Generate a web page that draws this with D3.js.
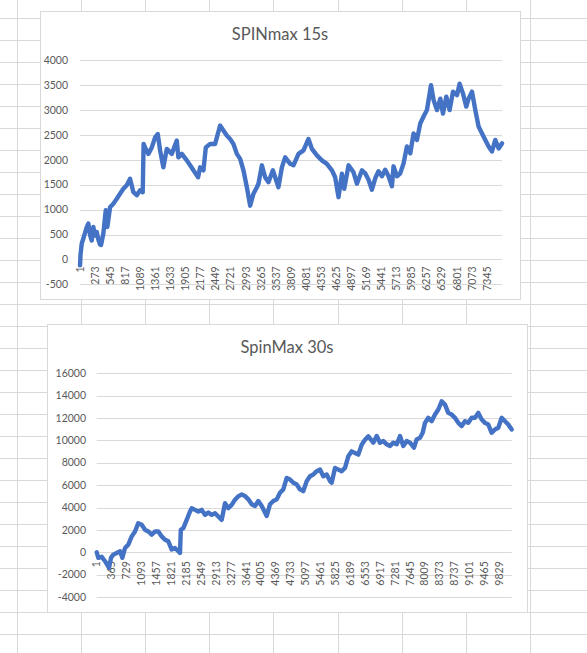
<!DOCTYPE html>
<html>
<head>
<meta charset="utf-8">
<script src="https://cdn.jsdelivr.net/npm/d3@7/dist/d3.min.js"></script>
<style>
    html, body { margin: 0; padding: 0; background: #fff; }
    svg { display: block; }
    text { font-family: Lato, "Open Sans", sans-serif; fill: #595959; }
</style>
</head>
<body>
<div id="sheet"></div>
<script>
// SPINmax 15s: sampled points (row index, value)
const spin15Count = 7616;
const spin15Index = [1, 10, 32, 61, 122, 151, 182, 212, 241, 272, 303, 331, 362, 380, 422, 465, 494, 543, 602, 664,
    723, 783, 844, 904, 964, 1025, 1085, 1133, 1148, 1175, 1235, 1296, 1356, 1404, 1446, 1505, 1567, 1657, 1747, 1776,
    1838, 1928, 1988, 2047, 2109, 2132, 2168, 2228, 2271, 2349, 2439, 2529, 2589, 2650, 2710, 2770, 2831, 2891, 2950, 3012,
    3071, 3131, 3193, 3221, 3283, 3342, 3402, 3481, 3523, 3582, 3644, 3703, 3794, 3853, 3944, 4034, 4124, 4186, 4276, 4366,
    4456, 4547, 4606, 4666, 4727, 4769, 4847, 4937, 4998, 5089, 5148, 5208, 5269, 5329, 5388, 5450, 5509, 5569, 5630, 5659,
    5721, 5780, 5840, 5901, 5961, 6021, 6082, 6141, 6201, 6262, 6291, 6335, 6382, 6443, 6503, 6551, 6611, 6671, 6732, 6804,
    6851, 6913, 6972, 7014, 7075, 7135, 7194, 7256, 7315, 7375, 7436, 7496, 7556, 7616];
const spin15Values = [-120, 100, 320, 420, 650, 720, 490, 380, 650, 480, 550, 400, 300, 290, 520, 990, 650, 1050, 1120, 1220,
    1320, 1420, 1490, 1620, 1350, 1290, 1390, 1350, 2320, 2250, 2120, 2250, 2450, 2520, 2190, 1850, 2220, 2120, 2390, 2050,
    2120, 1990, 1890, 1790, 1690, 1650, 1850, 1790, 2250, 2320, 2320, 2690, 2590, 2490, 2420, 2320, 2120, 2020, 1790, 1450,
    1080, 1320, 1450, 1520, 1890, 1650, 1550, 1790, 1650, 1450, 1850, 2050, 1920, 1890, 2120, 2190, 2420, 2220, 2090, 1990,
    1920, 1790, 1650, 1250, 1720, 1420, 1890, 1750, 1520, 1790, 1730, 1600, 1400, 1630, 1770, 1670, 1800, 1670, 1470, 1870,
    1670, 1730, 1930, 2270, 2130, 2530, 2400, 2730, 2870, 3000, 3200, 3500, 3200, 3000, 3230, 2930, 3270, 3000, 3370, 3300,
    3530, 3330, 3070, 3230, 3370, 3000, 2670, 2530, 2400, 2270, 2170, 2400, 2230, 2330];
const spin15Labels = [1, 273, 545, 817, 1089, 1361, 1633, 1905, 2177, 2449, 2721, 2993, 3265, 3537, 3809, 4081, 4353,
    4625, 4897, 5169, 5441, 5713, 5985, 6257, 6529, 6801, 7073, 7345];
const spin15YTicks = [-500, 0, 500, 1000, 1500, 2000, 2500, 3000, 3500, 4000];

// SpinMax 30s
const spin30Count = 10131;
const spin30Index = [1, 40, 123, 204, 301, 350, 406, 489, 570, 626, 692, 772, 855, 936, 1016, 1099, 1180, 1261, 1344, 1424,
    1505, 1588, 1668, 1749, 1832, 1912, 1993, 2034, 2054, 2115, 2198, 2278, 2320, 2401, 2481, 2564, 2645, 2725, 2808, 2889,
    2969, 3052, 3133, 3213, 3296, 3377, 3457, 3540, 3621, 3702, 3785, 3865, 3946, 4029, 4151, 4231, 4312, 4395, 4475, 4556,
    4639, 4719, 4800, 4883, 4964, 5044, 5127, 5208, 5288, 5371, 5452, 5532, 5615, 5696, 5737, 5818, 5899, 5981, 6062, 6143,
    6226, 6306, 6387, 6470, 6550, 6631, 6753, 6836, 6916, 6997, 7080, 7161, 7241, 7324, 7405, 7485, 7568, 7649, 7746, 7812,
    7893, 7959, 8015, 8095, 8178, 8259, 8340, 8422, 8503, 8584, 8667, 8747, 8828, 8911, 8991, 9072, 9155, 9235, 9316, 9399,
    9479, 9560, 9643, 9723, 9804, 9887, 9968, 10048, 10131];
const spin30Values = [0, -500, -410, -800, -1400, -500, -210, -60, 90, -500, 380, 680, 1420, 1860, 2600, 2460, 2010, 1860, 1570, 1860,
    1860, 1420, 1120, 980, 240, 380, 90, -60, 2010, 2160, 2900, 3640, 3940, 3790, 3640, 3790, 3340, 3550, 3340, 3490,
    3200, 2900, 4380, 3940, 4230, 4700, 5000, 5170, 5030, 4730, 4290, 4140, 4580, 4140, 3250, 4290, 4580, 4730, 5320, 5620,
    6650, 6510, 6210, 6060, 5620, 5470, 6360, 6800, 6950, 7250, 7390, 6800, 6950, 6360, 6210, 7540, 7390, 7250, 7540, 8580,
    9020, 8880, 8730, 9620, 10060, 10360, 9800, 10390, 9800, 9940, 9650, 9500, 9800, 9650, 10390, 9500, 9940, 9800, 9350, 10090,
    10240, 10680, 11570, 12020, 11720, 12310, 12760, 13500, 13200, 12460, 12310, 12020, 11570, 11280, 11720, 11570, 12020, 12020, 12460, 11870,
    11570, 11420, 10680, 10980, 11130, 12020, 11720, 11420, 10980];
const spin30Labels = [1, 365, 729, 1093, 1457, 1821, 2185, 2549, 2913, 3277, 3641, 4005, 4369, 4733, 5097, 5461, 5825,
    6189, 6553, 6917, 7281, 7645, 8009, 8373, 8737, 9101, 9465, 9829];
const spin30YTicks = [-4000, -2000, 0, 2000, 4000, 6000, 8000, 10000, 12000, 14000, 16000];

const WIDTH = 587, HEIGHT = 653;
const GRID_COLOR = "#d9d9d9";
const LINE_COLOR = "#4472c4";

/**
 * One Excel-like line chart sitting on top of the worksheet.
 */
class LinePanel {
    constructor (svg, options) {
        this.svg = svg;
        this.opts = options;
        this.g = svg.append("g").attr("class", "panel");
        this.x = d3.scaleLinear()
            .domain([0.5, options.count + 0.5])
            .range([options.plot.left, options.plot.right]);
        this.y = d3.scaleLinear()
            .domain(d3.extent(options.yTicks))
            .range([options.plot.bottom, options.plot.top]);
    }

    render () {
        this._drawFrame();
        this._drawGrid();
        this._drawLabels();
        this._drawSeries();
        return this;
    }

    _drawFrame () {
        var b = this.opts.box;
        this.g.append("rect")
            .attr("x", b.x + 0.5).attr("y", b.y + 0.5)
            .attr("width", b.w).attr("height", b.h)
            .attr("fill", "#fff")
            .attr("stroke", GRID_COLOR);

        this.g.append("text")
            .attr("x", b.x + b.w / 2)
            .attr("y", b.y + 29)
            .attr("text-anchor", "middle")
            .style("font-size", "16.5px")
            .text(this.opts.title);
    }

    _drawGrid () {
        var y = this.y, p = this.opts.plot;
        this.g.append("g")
            .selectAll("line")
            .data(this.opts.yTicks).enter()
            .append("line")
                .attr("x1", p.left).attr("x2", p.right)
                .attr("y1", d => Math.round(y(d)) + 0.5)
                .attr("y2", d => Math.round(y(d)) + 0.5)
                .attr("stroke", GRID_COLOR);
    }

    _drawLabels () {
        var x = this.x, y = this.y, o = this.opts;

        this.g.append("g")
            .selectAll("text")
            .data(o.yTicks).enter()
            .append("text")
                .attr("x", o.plot.left - o.yLabelGap)
                .attr("y", d => y(d))
                .attr("dy", "0.35em")
                .attr("text-anchor", "end")
                .style("font-size", "10.5px")
                .text(d => d);

        // category labels, rotated, hanging under the zero line
        var base = y(0) + o.xLabelGap;
        this.g.append("g")
            .selectAll("text")
            .data(o.xLabels).enter()
            .append("text")
                .attr("transform", d => `translate(${x(d)}, ${base}) rotate(-90)`)
                .attr("dy", "0.35em")
                .attr("text-anchor", "end")
                .style("font-size", "10.5px")
                .text(d => d);
    }

    _drawSeries () {
        var x = this.x, y = this.y;
        var pts = this.opts.index.map((i, k) => [i, this.opts.values[k]]);
        var line = d3.line()
            .x(d => x(d[0]))
            .y(d => y(d[1]));

        this.g.append("path")
            .datum(pts)
            .attr("d", line)
            .attr("fill", "none")
            .attr("stroke", LINE_COLOR)
            .attr("stroke-width", 4.4)
            .attr("stroke-linejoin", "round")
            .attr("stroke-linecap", "round");
    }
}

// worksheet background (cell borders)
function drawSheet (svg) {
    var cols = d3.range(0, 10).map(k => Math.round(17 + 64.1 * k) + 0.5);
    var rows = d3.range(0, 30).map(k => Math.round(18.3 + 22 * k) + 0.5);
    var sheet = svg.append("g").attr("class", "sheet");

    sheet.selectAll(".col").data(cols).enter()
        .append("line").attr("class", "col")
        .attr("x1", d => d).attr("x2", d => d)
        .attr("y1", 0).attr("y2", HEIGHT)
        .attr("stroke", GRID_COLOR);

    sheet.selectAll(".row").data(rows).enter()
        .append("line").attr("class", "row")
        .attr("x1", 0).attr("x2", WIDTH)
        .attr("y1", d => d).attr("y2", d => d)
        .attr("stroke", GRID_COLOR);
}

var svg = d3.select("#sheet").append("svg")
    .attr("width", WIDTH)
    .attr("height", HEIGHT);

drawSheet(svg);

new LinePanel(svg, {
    title: "SPINmax 15s",
    box: {x: 40, y: 11, w: 480, h: 288},
    plot: {left: 80, right: 502, top: 60.3, bottom: 284.3},
    count: spin15Count,
    index: spin15Index,
    values: spin15Values,
    xLabels: spin15Labels,
    yTicks: spin15YTicks,
    yLabelGap: 12,
    xLabelGap: 7
}).render();

new LinePanel(svg, {
    title: "SpinMax 30s",
    box: {x: 47, y: 324, w: 480, h: 288},
    plot: {left: 96.7, right: 511.7, top: 373.3, bottom: 597},
    count: spin30Count,
    index: spin30Index,
    values: spin30Values,
    xLabels: spin30Labels,
    yTicks: spin30YTicks,
    yLabelGap: 10.7,
    xLabelGap: 9
}).render();
</script>
</body>
</html>
